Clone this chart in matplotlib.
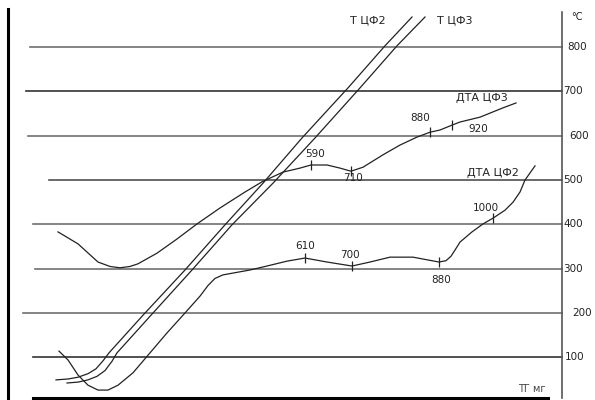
import numpy as np
import matplotlib.pyplot as plt

# temperature grid of the thermogram, degrees C
levels = [800, 700, 600, 500, 400, 300, 200, 100]
level_labels = ['800', '700', '600', '500', '400', '300', '200', '100']

# heating curves (x = time, arbitrary units; y = degrees C)
t2_x = [56, 68, 78, 88, 96, 103, 109, 143, 185, 225, 263, 302, 348, 385, 412]
t2_y = [49, 51, 55, 63, 74, 92, 110, 195, 297, 399, 493, 595, 708, 803, 868]
t3_x = [67, 78, 88, 97, 105, 112, 117, 151, 192, 232, 273, 315, 360, 397, 425]
t3_y = [42, 44, 49, 57, 70, 91, 110, 195, 297, 399, 493, 595, 708, 803, 868]

# DTA curves
dta2_x = [59, 68, 78, 88, 98, 108, 118, 133, 150, 167, 183, 200, 208, 215, 223,
          250, 267, 287, 305, 327, 352, 370, 390, 413, 439, 446, 451, 455, 460,
          472, 483, 493, 505, 513, 520, 525, 535]
dta2_y = [114, 94, 60, 37, 26, 26, 37, 65, 110, 155, 195, 238, 262, 278, 286,
          297, 306, 317, 324, 315, 306, 315, 326, 326, 315, 318, 328, 342, 360,
          383, 401, 414, 432, 450, 473, 500, 532]
dta3_x = [58, 78, 98, 110, 120, 130, 138, 157, 177, 197, 220, 245, 262, 283, 300,
          311, 327, 340, 351, 363, 383, 400, 417, 430, 440, 452, 460, 480, 503, 516]
dta3_y = [383, 356, 315, 305, 302, 305, 311, 335, 367, 401, 437, 473, 496, 518,
          527, 534, 534, 527, 520, 529, 557, 579, 597, 608, 613, 624, 631, 642,
          663, 674]

# marked peaks (x position on the curve, label)
dta2_marks = [305, 352, 439, 493]
dta2_marks_lab = ['610', '700', '880', '1000']
dta3_marks = [311, 351, 430, 452]
dta3_marks_lab = ['590', '710', '880', '920']

fig = plt.figure(figsize=(5.95, 4.0), dpi=100)
ax = fig.add_axes([0, 0, 1, 1])
ax.set_xlim(0, 595)
ax.set_ylim(3.6, 906.4)
ax.axis('off')

# grid lines (scanned, so they start at different places)
starts = [30, 26, 28, 49, 33, 35, 23, 33]
cols = ['#707070', '#333333', '#707070', '#505050', '#707070', '#707070', '#707070', '#333333']
for lv, x0, c in zip(levels, starts, cols):
    ax.plot([x0, 562], [lv, lv], color=c, lw=1.2)

# frame pieces
ax.plot([7.5, 7.5], [3.6, 885], color='black', lw=2.2)
ax.plot([33, 548], [7, 7], color='black', lw=2.2)
ax.plot([562, 562], [8, 879], color='#555555', lw=1.2)

lc = '#222222'
ax.plot(t2_x, t2_y, color=lc, lw=0.9)
ax.plot(t3_x, t3_y, color=lc, lw=0.9)
ax.plot(dta2_x, dta2_y, color=lc, lw=0.9)
ax.plot(dta3_x, dta3_y, color=lc, lw=0.9)

ax.plot(dta2_marks, np.interp(dta2_marks, dta2_x, dta2_y), ls='none',
        marker='|', ms=7, mew=0.9, color=lc)
ax.plot(dta3_marks, np.interp(dta3_marks, dta3_x, dta3_y), ls='none',
        marker='|', ms=7, mew=0.9, color=lc)

fs = 7.5
lab_pos2 = [(305, 351), (350, 331), (441, 274), (486, 437)]
lab_pos3 = [(315, 559), (353, 504), (420, 640), (478, 615)]
for (x, y), s in zip(lab_pos2, dta2_marks_lab):
    ax.text(x, y, s, ha='center', va='center', fontsize=fs, color='#222222')
for (x, y), s in zip(lab_pos3, dta3_marks_lab):
    ax.text(x, y, s, ha='center', va='center', fontsize=fs, color='#222222')

ax.text(368, 861, 'Т ЦФ2', ha='center', va='center', fontsize=8, color='#222222')
ax.text(455, 861, 'Т ЦФ3', ha='center', va='center', fontsize=8, color='#222222')
ax.text(482, 685, 'ДТА ЦФ3', ha='center', va='center', fontsize=8, color='#222222')
ax.text(493, 516, 'ДТА ЦФ2', ha='center', va='center', fontsize=8, color='#222222')
ax.text(532, 28, 'ТГ мг', ha='center', va='center', fontsize=7, color='#444444')

# right scale
lab_x = [577, 573, 579, 573, 573, 573, 582, 575]
for lv, s, x in zip(levels, level_labels, lab_x):
    ax.text(x, lv, s, ha='center', va='center', fontsize=7.5, color='#222222')
ax.text(577, 868, '°C', ha='center', va='center', fontsize=7, color='#222222')

fig.savefig('out.png', dpi=100)
